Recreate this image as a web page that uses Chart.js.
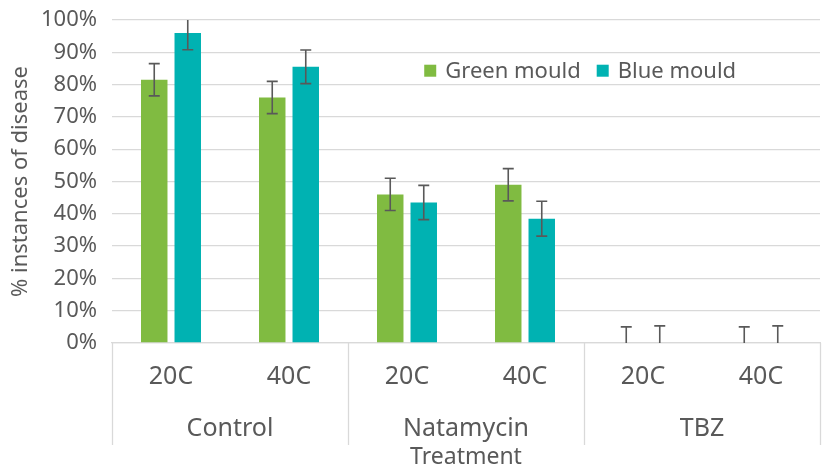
<!DOCTYPE html>
<html>
<head>
<meta charset="utf-8">
<script src="https://cdn.jsdelivr.net/npm/chart.js@4.4.1/dist/chart.umd.min.js"></script>
<style>
  body { margin: 0; background: #fff; }
</style>
</head>
<body>
<canvas id="myChart" width="823" height="470"></canvas>
<script>
const temps = ['20C', '40C', '20C', '40C', '20C', '40C'];
const groups = ['Control', 'Natamycin', 'TBZ'];
const greenMould = [81.5, 76, 46, 49, 0, 0];
const blueMould = [96, 85.5, 43.5, 38.5, 0, 0];
const greenErr = [5, 5, 5, 5, 5, 5];
const blueErr = [5.2, 5.2, 5.3, 5.4, 5.3, 5.3];
const yTicks = [0, 10, 20, 30, 40, 50, 60, 70, 80, 90, 100];

const TEXT = '#595959';
const GRID = '#d9d9d9';
const FONT = "'Noto Sans', sans-serif";

// error bars, drawn from each bar element and the y scale
const errorBars = {
    id: 'errorBars',
    afterDatasetsDraw(chart) {
        const ctx = chart.ctx;
        const area = chart.chartArea;
        const y = chart.scales.y;
        ctx.save();
        ctx.beginPath();
        ctx.rect(area.left, area.top, area.right - area.left, area.bottom - area.top);
        ctx.clip();
        ctx.strokeStyle = TEXT;
        ctx.lineWidth = 1.6;
        chart.data.datasets.forEach(function (ds, di) {
            const meta = chart.getDatasetMeta(di);
            meta.data.forEach(function (bar, i) {
                const hi = y.getPixelForValue(ds.data[i] + ds.err[i]);
                const lo = y.getPixelForValue(ds.data[i] - ds.err[i]);
                ctx.beginPath();
                ctx.moveTo(bar.x, hi); ctx.lineTo(bar.x, lo);
                ctx.moveTo(bar.x - 5.5, hi); ctx.lineTo(bar.x + 5.5, hi);
                ctx.moveTo(bar.x - 5.5, lo); ctx.lineTo(bar.x + 5.5, lo);
                ctx.stroke();
            });
        });
        ctx.restore();
    }
};

// group labels + separators under the axis, legend inside the plot area
const extras = {
    id: 'extras',
    afterDraw(chart) {
        const ctx = chart.ctx;
        const area = chart.chartArea;
        const x = chart.scales.x;
        const step = (x.right - x.left) / temps.length;
        ctx.save();
        ctx.strokeStyle = GRID;
        ctx.lineWidth = 1.3;
        for (let i = 0; i <= temps.length; i += 2) {
            const px = Math.round(x.left + i * step) + 0.5;
            ctx.beginPath();
            ctx.moveTo(px, area.bottom);
            ctx.lineTo(px, x.top + 102);
            ctx.stroke();
        }

        ctx.fillStyle = TEXT;
        ctx.font = '25px ' + FONT;
        ctx.textAlign = 'center';
        ctx.textBaseline = 'middle';
        groups.forEach(function (g, gi) {
            ctx.fillText(g, x.left + (gi * 2 + 1) * step, x.top + 86);
        });

        let lx = area.left + 0.441 * (area.right - area.left);
        const yc = area.top + 0.157 * (area.bottom - area.top);
        ctx.font = '22px ' + FONT;
        ctx.textAlign = 'left';
        chart.data.datasets.forEach(function (ds) {
            ctx.fillStyle = ds.backgroundColor;
            ctx.fillRect(lx, yc - 6, 12, 12);
            lx += 21;
            ctx.fillStyle = TEXT;
            ctx.fillText(ds.label, lx, yc + 1);
            lx += ctx.measureText(ds.label).width + 16;
        });
        ctx.restore();
    }
};

const myChart = new Chart(document.getElementById('myChart'), {
    type: 'bar',
    data: {
        labels: temps,
        datasets: [
            { label: 'Green mould', data: greenMould, err: greenErr, backgroundColor: '#80bb41' },
            { label: 'Blue mould', data: blueMould, err: blueErr, backgroundColor: '#00b2b2' }
        ]
    },
    options: {
        responsive: false,
        animation: false,
        categoryPercentage: 0.568,
        barPercentage: 0.79,
        layout: { padding: { top: 20, right: 3, left: 6, bottom: 0 } },
        plugins: {
            legend: { display: false },
            tooltip: { enabled: false }
        },
        scales: {
            y: {
                min: 0,
                max: 100,
                afterBuildTicks: function (scale) {
                    scale.ticks = yTicks.map(function (v) { return { value: v }; });
                },
                afterFit: function (scale) {
                    scale.width = 106;
                    scale.paddingTop = 0;
                    scale.paddingBottom = 0;
                },
                ticks: {
                    color: TEXT,
                    font: { family: FONT, size: 22 },
                    padding: 15,
                    autoSkip: false,
                    callback: function (v) { return v + '%'; }
                },
                grid: { color: GRID, lineWidth: 1.3, drawTicks: false },
                border: { display: false },
                title: {
                    display: true,
                    text: '% instances of disease',
                    color: TEXT,
                    font: { family: FONT, size: 22 },
                    padding: { top: 2, bottom: 4 }
                }
            },
            x: {
                afterFit: function (scale) {
                    scale.height = 127;
                    scale.paddingLeft = 0;
                    scale.paddingRight = 0;
                },
                ticks: {
                    color: TEXT,
                    font: { family: FONT, size: 25, lineHeight: 1.1 },
                    padding: 20,
                    maxRotation: 0,
                    autoSkip: false
                },
                grid: { display: false, drawTicks: false },
                border: { display: true, color: GRID, width: 1.3 },
                title: {
                    display: true,
                    text: 'Treatment',
                    color: TEXT,
                    font: { family: FONT, size: 23, lineHeight: 1.1 },
                    padding: { top: 0, bottom: 0 }
                }
            }
        }
    },
    plugins: [errorBars, extras]
});
</script>
</body>
</html>
